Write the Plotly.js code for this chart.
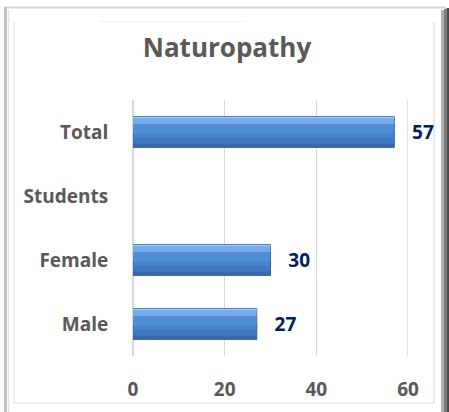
<!DOCTYPE html>
<html><head><meta charset="utf-8">
<script src="https://cdn.plot.ly/plotly-3.0.1.min.js"></script>
<style>html,body{margin:0;padding:0;background:#fff;}#chart{width:449px;height:412px;}</style>
</head><body><div id="chart"></div>
<script>
var categories = ["Male", "Female", "Students", "Total"];
var values = [27, 30, null, 57];
var xTicks = [0, 20, 40, 60];
var chartTitle = "Naturopathy";

var W = 449, H = 412, L = 133, R = 41, T = 100, B = 56;
var pw = W - L - R, ph = H - T - B;
function px(x) { return (x - L) / pw; }
function py(y) { return (H - B - y) / ph; }
function line(x0, y0, x1, y1, color, w) {
  return {type: 'line', xref: 'paper', yref: 'paper', x0: px(x0), y0: py(y0), x1: px(x1), y1: py(y1),
    line: {color: color, width: w}, layer: 'below'};
}
function rect(x0, y0, x1, y1, color) {
  return {type: 'rect', xref: 'paper', yref: 'paper', x0: px(x0), y0: py(y0), x1: px(x1), y1: py(y1),
    fillcolor: color, line: {width: 0}, layer: 'below'};
}

var FONT = '"Open Sans", sans-serif';
var labelText = values.map(function (v) { return v === null ? '' : '   ' + v; });

function band(off, wid, color) {
  return {type: 'bar', orientation: 'h', y: categories, x: values, width: wid, offset: off,
    marker: {color: color, line: {width: 0}}, hoverinfo: 'none'};
}

var mainBar = {
  type: 'bar', orientation: 'h', y: categories, x: values,
  width: 0.48, offset: -0.24,
  marker: {color: '#4684cc', line: {color: '#2a5790', width: 1}},
  text: labelText, textposition: 'outside', cliponaxis: false,
  textfont: {family: FONT, size: 19, color: '#002060', weight: 'bold'},
  hoverinfo: 'none'
};

var lastTick = xTicks[xTicks.length - 1];

var layout = {
  width: W, height: H,
  margin: {l: L, r: R, t: T, b: B, pad: 0},
  paper_bgcolor: '#ffffff', plot_bgcolor: 'rgba(0,0,0,0)',
  showlegend: false, barmode: 'overlay',
  font: {family: FONT, color: '#595959'},
  title: {text: chartTitle, xref: 'paper', x: px(227), xanchor: 'center', y: 1 - 48 / H, yanchor: 'middle',
    font: {family: FONT, size: 26, color: '#595959', weight: 'bold'}},
  xaxis: {range: [0, 60], tickvals: xTicks, ticktext: xTicks.map(String),
    showgrid: true, gridcolor: '#d9d9d9', gridwidth: 1.5,
    zeroline: true, zerolinecolor: '#d9d9d9', zerolinewidth: 1.5, showline: false,
    ticks: 'outside', ticklen: 16, tickcolor: 'rgba(0,0,0,0)',
    tickfont: {family: FONT, size: 19, color: '#595959', weight: 'bold'}, fixedrange: true},
  yaxis: {type: 'category', categoryorder: 'array', categoryarray: categories, range: [-0.5, 3.5],
    showgrid: false, zeroline: false, showline: false,
    ticks: 'outside', ticklen: 20, tickcolor: 'rgba(0,0,0,0)',
    tickfont: {family: FONT, size: 19, color: '#595959', weight: 'bold'}, fixedrange: true},
  shapes: [
    {type: 'line', xref: 'x', yref: 'paper', x0: lastTick, x1: lastTick, y0: 0, y1: 1,
      line: {color: '#d9d9d9', width: 1.5}, layer: 'below'},
    line(4, 7.5, 446, 7.5, '#d4d4d4', 2),
    line(5.5, 7, 5.5, 412, '#c4c4c4', 3),
    line(8.5, 10, 8.5, 412, '#e2e2e2', 1.5),
    line(14, 22, 14, 403, '#e8e8e8', 1.5),
    line(434, 22, 434, 403, '#e2e2e2', 1.5),
    line(14, 403, 434, 403, '#e8e8e8', 1.5),
    line(100, 21.5, 245, 21.5, '#f0f0f0', 1),
    rect(441, 10, 444, 412, '#b0b0b0'),
    rect(444, 9, 446.5, 412, '#7a7a7a'),
    rect(446.5, 8, 449, 412, '#4a4a4a')
  ]
};

var traces = [
  mainBar,
  band(-0.235, 0.06, '#3869ab'),
  band(-0.175, 0.08, '#3f78c0'),
  band(-0.02, 0.14, '#518dd4'),
  band(0.12, 0.1, '#74abe8'),
  band(0.215, 0.022, '#9fc8f3')
];

Plotly.newPlot('chart', traces, layout, {displayModeBar: false, staticPlot: true});
</script></body></html>
